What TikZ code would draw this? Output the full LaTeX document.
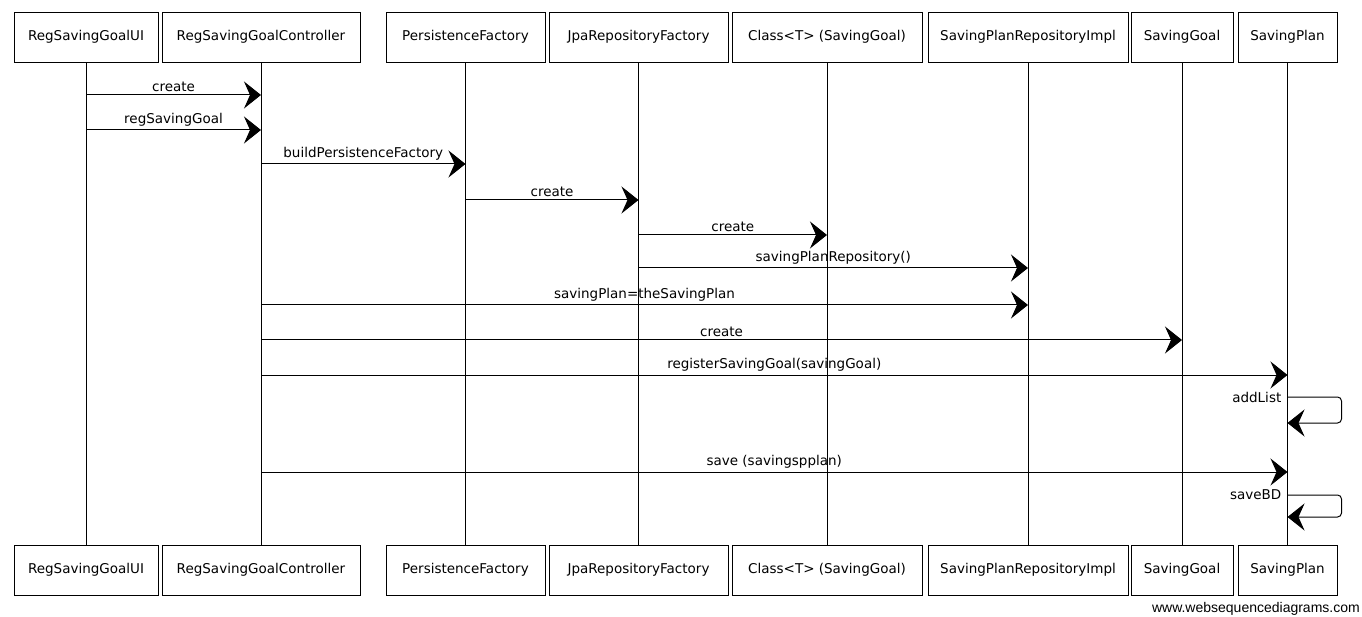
\documentclass[tikz,border=0pt]{standalone}
\usepackage{fontspec}
\setmainfont{DejaVu Sans}
\newfontfamily\webfont{Liberation Sans}
\usetikzlibrary{arrows.meta}

\begin{document}
\begin{tikzpicture}[x=1pt,y=-1pt,
  font=\fontsize{13.5}{15}\selectfont,
  actor/.style={draw, line width=0.8pt, minimum height=50pt, inner sep=0pt},
  life/.style={line width=0.7pt},
  msg/.style={line width=1pt, -{Stealth[length=17pt,width=27pt,inset=6pt]}},
  lbl/.style={above, inner sep=3pt}]
\useasboundingbox (0,0) rectangle (1362,617);
\def\msg#1#2#3#4{\draw[msg] (#1 |- 0,#3) -- node[lbl]{#4} (#2 |- 0,#3);}
\def\selfmsg#1#2#3#4{\draw[msg, rounded corners=4pt] (#1 |- 0,#2) -- ++(54,0) -- ++(0,#3-#2) -- (#1 |- 0,#3);
  \node[anchor=east, inner sep=2pt] at ([xshift=-4pt]#1 |- 0,#2) {#4};}

% participants, top and bottom row
\foreach \nm/\cx/\w/\txt in {ui/86/144/RegSavingGoalUI, ctrl/261/198/RegSavingGoalController,
  pf/465.5/159/PersistenceFactory, jpa/638.5/179/JpaRepositoryFactory,
  cls/827/190/Class<T> (SavingGoal), repo/1028/200/SavingPlanRepositoryImpl,
  sg/1182/102/SavingGoal, sp/1287.5/99/SavingPlan}
{
  \node[actor, minimum width=\w pt] (\nm) at (\cx,37) {\txt};
  \node[actor, minimum width=\w pt] (\nm-b) at (\cx,570) {\txt};
  \draw[life] (\nm.south) -- (\nm-b.north);
}

\msg{ui}{ctrl}{95}{create}
\msg{ui}{ctrl}{130}{regSavingGoal}
\msg{ctrl}{pf}{164}{buildPersistenceFactory}
\msg{pf}{jpa}{200}{create}
\msg{jpa}{cls}{235}{create}
\msg{jpa}{repo}{268}{savingPlanRepository()}
\msg{ctrl}{repo}{305}{savingPlan=theSavingPlan}
\msg{ctrl}{sg}{340}{create}
\msg{ctrl}{sp}{375}{registerSavingGoal(savingGoal)}
\selfmsg{sp}{397}{423}{addList}
\msg{ctrl}{sp}{472}{save (savingspplan)}
\selfmsg{sp}{495}{517}{saveBD}

\node[anchor=east, inner sep=0pt, font=\webfont\fontsize{14}{16}\selectfont] (web) at (1360,609) {www.websequencediagrams.com};
\end{tikzpicture}
\end{document}
